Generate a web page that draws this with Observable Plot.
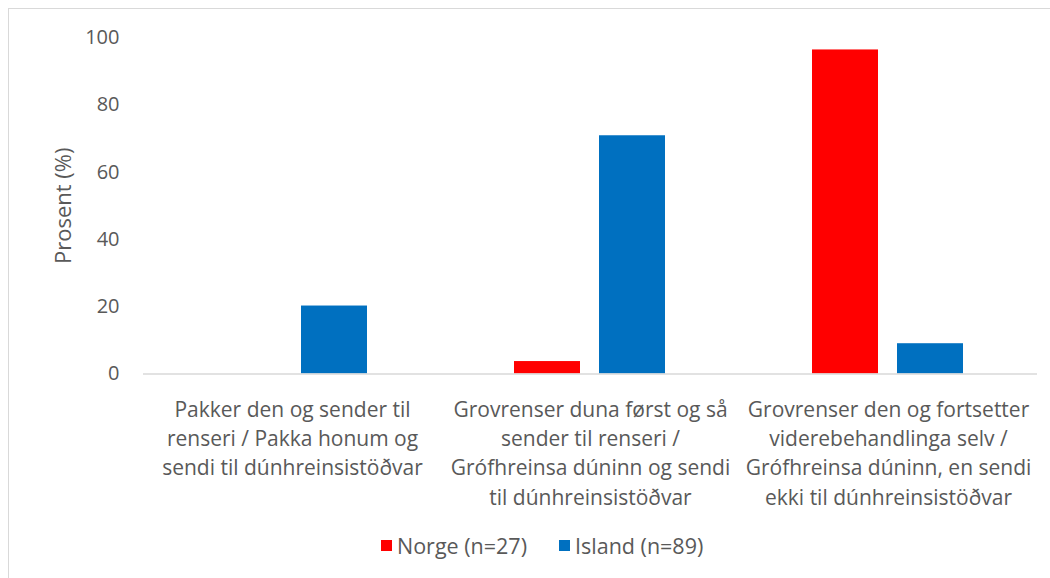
<!DOCTYPE html>
<html>
<head>
<meta charset="utf-8">
<script src="https://cdn.jsdelivr.net/npm/d3@7"></script>
<script src="https://cdn.jsdelivr.net/npm/@observablehq/plot@0.6"></script>
<style>
  html, body { margin: 0; padding: 0; background: #fff; overflow: hidden; }
  body { width: 1050px; height: 578px; position: relative; font-family: "Open Sans", Lato, sans-serif; }
  #frame { position: absolute; left: 8px; top: 8px; width: 1100px; height: 700px; border-left: 1.5px solid #d9d9d9; border-top: 1.5px solid #d9d9d9; }
  #chart { position: absolute; left: 0; top: 0; }
  #legend { position: absolute; left: 0; top: 531px; width: 1050px; height: 28px; font-size: 21.5px; color: #595959; }
  .item { position: absolute; top: 0; display: flex; align-items: center; height: 28px; }
  .sw { width: 11px; height: 11px; margin-right: 5px; }
</style>
</head>
<body>
<div id="frame"></div>
<div id="chart"></div>
<div id="legend"></div>
<script>
const categories = [
  "Pakker den og sender til\nrenseri / Pakka honum og\nsendi til dúnhreinsistöðvar",
  "Grovrenser duna først og så\nsender til renseri /\nGrófhreinsa dúninn og sendi\ntil dúnhreinsistöðvar",
  "Grovrenser den og fortsetter\nviderebehandlinga selv /\nGrófhreinsa dúninn, en sendi\nekki til dúnhreinsistöðvar"
];
const seriesNames = ["Norge (n=27)", "Island (n=89)"];
const seriesColors = ["#FF0000", "#0070C0"];
const norge = [0, 3.7, 96.3];
const island = [20.2, 70.8, 9.0];
const yTicks = [0, 20, 40, 60, 80, 100];
const yLabel = "Prosent (%)";

const data = [];
categories.forEach((c, i) => {
  data.push({cat: c, series: seriesNames[0], value: norge[i]});
  data.push({cat: c, series: seriesNames[1], value: island[i]});
});

const textColor = "#595959";
const chart = Plot.plot({
  width: 1050,
  height: 520,
  marginLeft: 142,
  marginRight: 13,
  marginTop: 37,
  marginBottom: 146.5,
  style: {fontFamily: "'Open Sans', Lato, sans-serif", fontSize: "20px", color: textColor, background: "transparent"},
  fx: {domain: categories, padding: 0},
  x: {domain: seriesNames, paddingInner: 0.221, paddingOuter: 0.849, axis: null},
  y: {domain: [0, 100]},
  color: {domain: seriesNames, range: seriesColors},
  marks: [
    Plot.axisY({ticks: yTicks, tickSize: 0, tickPadding: 24, fontSize: 20, fill: textColor, label: null}),
    Plot.text([yLabel], {frameAnchor: "left", textAnchor: "middle", rotate: -90, dx: -80, fontSize: 22, fill: textColor, facetAnchor: "left"}),
    Plot.axisFx({anchor: "bottom", tickSize: 0, tickPadding: 22, fontSize: 21, lineHeight: 1.395, fill: textColor, label: null}),
    Plot.barY(data, {fx: "cat", x: "series", y: "value", fill: "series"}),
    Plot.ruleY([0], {stroke: "#d9d9d9", strokeWidth: 1.5})
  ]
});
document.getElementById("chart").appendChild(chart);

const legend = document.getElementById("legend");
const legendX = [381, 559];
seriesNames.forEach((name, i) => {
  const item = document.createElement("div");
  item.className = "item";
  item.style.left = legendX[i] + "px";
  const sw = document.createElement("div");
  sw.className = "sw";
  sw.style.background = seriesColors[i];
  const label = document.createElement("span");
  label.textContent = name;
  item.appendChild(sw);
  item.appendChild(label);
  legend.appendChild(item);
});
</script>
</body>
</html>
